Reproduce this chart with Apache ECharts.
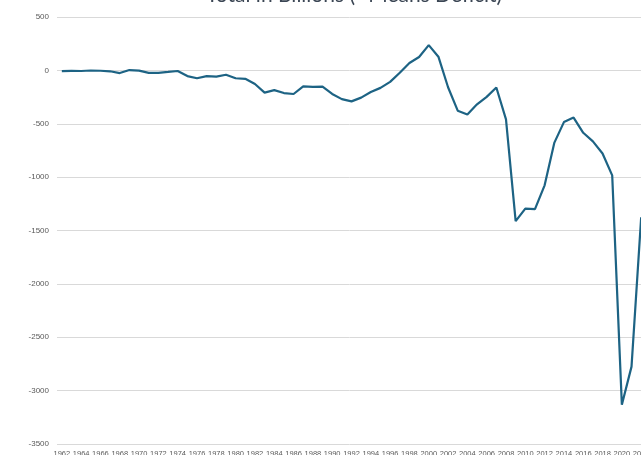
<!DOCTYPE html>
<html>
<head>
<meta charset="utf-8">
<script src="https://cdn.jsdelivr.net/npm/echarts@6/dist/echarts.min.js"></script>
<style>html,body{margin:0;padding:0;background:#fff}#c{width:641px;height:455px}</style>
</head>
<body>
<div id="c"></div>
<script>
const years = [];
for (let y = 1962; y <= 2022; y++) years.push(String(y));
const values = [
  -7.1, -4.8, -5.9, -1.4, -3.7, -8.6, -25.2, 3.2, -2.8, -23.0,
  -23.4, -14.9, -6.1, -53.2, -73.7, -53.7, -59.2, -40.7, -73.8, -79.0,
  -128.0, -207.8, -185.4, -212.3, -221.2, -149.7, -155.2, -152.6, -221.0, -269.2,
  -290.3, -255.1, -203.2, -164.0, -107.4, -21.9, 69.3, 125.6, 236.2, 128.2,
  -157.8, -377.6, -412.7, -318.3, -248.2, -160.7, -458.6, -1412.7, -1294.4, -1299.6,
  -1076.6, -679.5, -484.6, -442.0, -584.7, -665.4, -779.1, -983.6, -3132.5, -2775.3,
  -1375.9
];
const titleText = 'Total in Billions (- Means Deficit)';

const chart = echarts.init(document.getElementById('c'), null, {renderer: 'canvas'});
chart.setOption({
  animation: false,
  title: {
    text: titleText,
    left: 201,
    top: -20,
    textStyle: {fontFamily: 'Lato', fontSize: 21, fontWeight: 'normal', color: '#3b4654'}
  },
  grid: {left: 57, width: 589, top: 17, height: 427, containLabel: false, outerBoundsMode: 'none'},
  xAxis: {
    type: 'category',
    data: years,
    boundaryGap: true,
    axisLine: {show: false},
    axisTick: {show: false},
    axisLabel: {interval: 1, fontSize: 7.5, color: '#595959', margin: 6, fontFamily: 'Liberation Sans'}
  },
  yAxis: {
    type: 'value',
    min: -3500,
    max: 500,
    interval: 500,
    axisLine: {show: false},
    axisTick: {show: false},
    axisLabel: {fontSize: 8, color: '#595959', margin: 8, fontFamily: 'Liberation Sans',
      formatter: v => String(v)},
    splitLine: {lineStyle: {color: '#d9d9d9', width: 1}}
  },
  series: [{
    type: 'line',
    data: values,
    symbol: 'none',
    lineStyle: {color: '#1d6384', width: 2.2},
    itemStyle: {color: '#1d6384'}
  }]
});
</script>
</body>
</html>
